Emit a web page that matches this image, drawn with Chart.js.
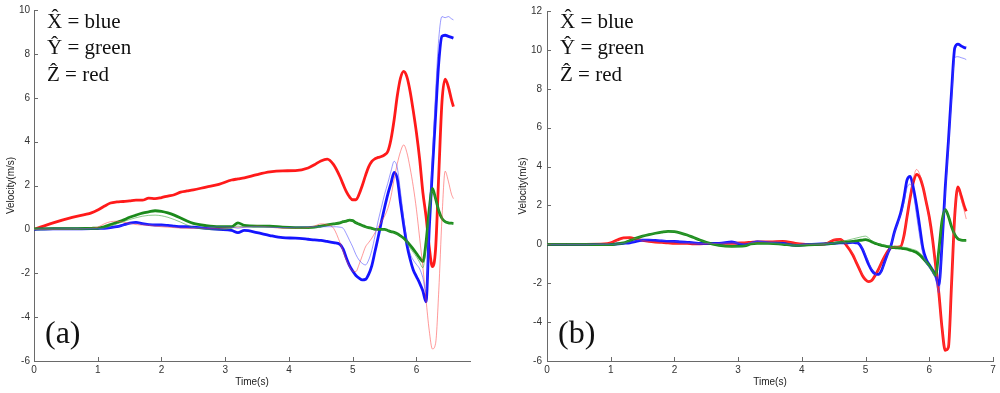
<!DOCTYPE html>
<html>
<head>
<meta charset="utf-8">
<script src="https://cdn.jsdelivr.net/npm/chart.js@4.4.1/dist/chart.umd.min.js"></script>
<style>
  html, body { margin: 0; padding: 0; background: #fff; }
  #wrap { position: relative; width: 1000px; height: 393px; overflow: hidden; }
  .panel { position: absolute; top: 0; width: 500px; height: 393px; }
  .key { position: absolute; top: 8px; font-family: "Liberation Serif", "Times New Roman", serif; font-size: 21px; line-height: 26.3px; color: #111; white-space: nowrap; }
  .tag { position: absolute; top: 316px; font-family: "Liberation Serif", "Times New Roman", serif; font-size: 32px; line-height: 32px; color: #111; }
</style>
</head>
<body>
<div id="wrap">
  <canvas id="chartA" class="panel" style="left:0" width="500" height="393"></canvas>
  <canvas id="chartB" class="panel" style="left:500px" width="500" height="393"></canvas>
  <div class="key" style="left:47px">X&#770; = blue<br>Y&#770; = green<br>Z&#770; = red</div>
  <div class="key" style="left:560px">X&#770; = blue<br>Y&#770; = green<br>Z&#770; = red</div>
  <div class="tag" style="left:45px">(a)</div>
  <div class="tag" style="left:558px">(b)</div>
</div>
<script>
/* ── DATA ── */
const time = [0, 0.3, 0.6, 0.9, 1.0, 1.1, 1.2, 1.3, 1.4, 1.5,
  1.6, 1.7, 1.8, 1.9, 2.0, 2.1, 2.2, 2.3, 2.4, 2.5,
  2.7, 2.9, 3.1, 3.2, 3.3, 3.5, 3.7, 3.9, 4.1, 4.3,
  4.4, 4.5, 4.6, 4.7, 4.8, 4.85, 4.9, 4.95, 5.0, 5.05,
  5.1, 5.15, 5.2, 5.25, 5.3, 5.35, 5.4, 5.45, 5.5, 5.55,
  5.6, 5.65, 5.7, 5.75, 5.8, 5.85, 5.9, 5.95, 6.0, 6.05,
  6.1, 6.15, 6.2, 6.25, 6.3, 6.35, 6.4, 6.45, 6.5, 6.55, 6.58];

// panel (a): thick = estimate, thin = reference
const xEstA = [0, 0.02, 0.02, 0.03, 0.04, 0.05, 0.08, 0.12, 0.2, 0.28,
  0.32, 0.26, 0.22, 0.2, 0.2, 0.18, 0.15, 0.12, 0.12, 0.1,
  0.05, 0.0, -0.05, -0.15, -0.05, -0.15, -0.28, -0.38, -0.4, -0.45,
  -0.48, -0.5, -0.55, -0.6, -0.68, -0.9, -1.3, -1.65, -1.9, -2.1,
  -2.22, -2.3, -2.28, -2.05, -1.65, -1.0, -0.35, 0.35, 1.0, 1.6,
  2.1, 2.6, 2.3, 1.2, 0.2, -0.7, -1.35, -1.85, -2.15, -2.45,
  -2.8, -3.3, 0.0, 2.7, 5.2, 7.6, 8.8, 8.85, 8.8, 8.75, 8.72];
const xRefA = [0, 0.02, 0.02, 0.03, 0.04, 0.05, 0.08, 0.12, 0.18, 0.25,
  0.28, 0.25, 0.22, 0.2, 0.18, 0.15, 0.12, 0.1, 0.1, 0.08,
  0.1, 0.12, 0.1, 0.05, 0.1, 0.12, 0.1, 0.08, 0.1, 0.12,
  0.12, 0.12, 0.12, 0.12, 0.1, 0.05, -0.2, -0.5, -0.8, -1.15,
  -1.4, -1.55, -1.62, -1.4, -0.95, -0.3, 0.4, 1.0, 1.6, 2.1,
  2.65, 3.1, 2.8, 1.7, 0.5, -0.5, -1.1, -1.4, -1.6, -1.8,
  -2.2, -2.85, 0.3, 3.3, 6.2, 8.7, 9.7, 9.65, 9.7, 9.6, 9.55];
const yEstA = [0.02, 0.03, 0.03, 0.05, 0.06, 0.12, 0.22, 0.32, 0.42, 0.55,
  0.65, 0.74, 0.8, 0.85, 0.82, 0.75, 0.65, 0.52, 0.38, 0.27,
  0.17, 0.12, 0.12, 0.3, 0.18, 0.15, 0.15, 0.1, 0.08, 0.08,
  0.1, 0.15, 0.2, 0.25, 0.3, 0.35, 0.38, 0.42, 0.4, 0.3,
  0.24, 0.18, 0.12, 0.08, 0.05, 0.0, 0.0, 0.0, 0.0, -0.05,
  -0.1, -0.14, -0.2, -0.3, -0.4, -0.55, -0.72, -0.9, -1.1, -1.3,
  -1.47, -0.6, 0.9, 1.87, 1.4, 0.85, 0.5, 0.35, 0.3, 0.28, 0.27];
const yRefA = [0.02, 0.02, 0.02, 0.03, 0.02, 0.05, 0.15, 0.25, 0.35, 0.45,
  0.53, 0.6, 0.64, 0.65, 0.62, 0.55, 0.45, 0.33, 0.2, 0.1,
  0.0, -0.02, 0.05, 0.15, 0.12, 0.12, 0.1, 0.08, 0.05, 0.05,
  0.08, 0.12, 0.18, 0.25, 0.32, 0.35, 0.38, 0.45, 0.38, 0.3,
  0.22, 0.15, 0.1, 0.06, 0.03, 0.02, 0.02, 0.0, -0.02, -0.06,
  -0.1, -0.15, -0.22, -0.32, -0.45, -0.65, -0.85, -1.05, -1.25, -1.5,
  -1.75, -0.8, 0.8, 1.75, 1.4, 0.85, 0.5, 0.35, 0.3, 0.27, 0.25];
const zEstA = [0, 0.3, 0.55, 0.75, 0.88, 1.05, 1.2, 1.25, 1.27, 1.3,
  1.33, 1.33, 1.42, 1.4, 1.45, 1.52, 1.58, 1.7, 1.75, 1.8,
  1.93, 2.05, 2.25, 2.3, 2.35, 2.5, 2.62, 2.67, 2.68, 2.8,
  2.95, 3.12, 3.2, 2.95, 2.4, 2.05, 1.72, 1.48, 1.35, 1.35,
  1.6, 2.0, 2.45, 2.85, 3.1, 3.22, 3.28, 3.32, 3.4, 3.55,
  4.1, 5.0, 6.1, 6.9, 7.2, 6.95, 6.3, 5.4, 4.4, 3.2,
  1.7, 0.6, -0.8, -1.7, -0.9, 2.5, 5.8, 6.85, 6.5, 5.9, 5.6];
const zRefA = [0, 0, 0.02, 0.05, 0.1, 0.25, 0.35, 0.37, 0.33, 0.28,
  0.22, 0.2, 0.18, 0.15, 0.12, 0.1, 0.08, 0.06, 0.05, 0.05,
  0.05, 0.05, 0.08, 0.1, 0.1, 0.15, 0.1, 0.05, 0.05, 0.08,
  0.15, 0.25, 0.22, 0.05, -0.6, -1.0, -1.4, -1.7, -1.9, -1.92,
  -1.6, -1.2, -0.8, -0.6, -0.4, -0.15, 0.1, 0.35, 0.6, 0.95,
  1.5, 2.3, 3.0, 3.55, 3.85, 3.5, 2.8, 1.95, 0.9, -0.4,
  -1.7, -3.2, -4.6, -5.45, -5.2, -2.8, 0.5, 2.65, 2.2, 1.6, 1.4];

// panel (b)
const xEstB = [0, 0, 0, 0, 0.0, 0.02, 0.05, 0.08, 0.15, 0.22,
  0.22, 0.2, 0.18, 0.15, 0.15, 0.12, 0.1, 0.08, 0.05, 0.05,
  0.05, 0.12, -0.03, 0.05, 0.12, 0.08, 0.05, -0.05, 0.0, 0.02,
  0.03, 0.05, 0.08, 0.08, 0.1, 0.08, 0.02, -0.25, -0.65, -1.05,
  -1.35, -1.52, -1.55, -1.35, -0.9, -0.45, -0.05, 0.6, 1.1, 1.6,
  2.35, 3.3, 3.5, 2.9, 2.0, 0.9, -0.2, -0.75, -1.05, -1.3,
  -1.6, -2.1, 0.0, 2.9, 5.3, 7.9, 10.1, 10.3, 10.2, 10.12, 10.1];
const xRefB = [0, 0, 0, 0, 0.0, 0.02, 0.05, 0.1, 0.18, 0.25,
  0.25, 0.22, 0.2, 0.18, 0.15, 0.12, 0.1, 0.08, 0.06, 0.05,
  0.05, 0.12, 0.0, 0.08, 0.15, 0.1, 0.05, -0.03, 0.02, 0.02,
  0.03, 0.05, 0.08, 0.08, 0.1, 0.08, 0.02, -0.2, -0.55, -0.95,
  -1.3, -1.55, -1.6, -1.4, -0.95, -0.5, 0.0, 0.55, 1.05, 1.5,
  2.1, 2.9, 3.1, 2.6, 1.5, 0.4, -0.5, -0.95, -1.2, -1.45,
  -1.8, -2.5, -0.1, 2.5, 5.0, 7.5, 9.6, 9.65, 9.6, 9.55, 9.5];
const yEstB = [0, 0, 0, -0.02, -0.02, 0.02, 0.07, 0.2, 0.32, 0.42,
  0.5, 0.57, 0.63, 0.67, 0.65, 0.58, 0.48, 0.35, 0.22, 0.1,
  -0.05, -0.1, -0.08, 0.02, 0.05, 0.05, 0.0, -0.05, -0.03, 0.0,
  0.02, 0.05, 0.1, 0.12, 0.15, 0.18, 0.2, 0.22, 0.24, 0.2,
  0.12, 0.05, 0.0, -0.05, -0.08, -0.12, -0.15, -0.17, -0.18, -0.2,
  -0.22, -0.25, -0.3, -0.35, -0.42, -0.55, -0.72, -0.9, -1.1, -1.35,
  -1.6, -0.3, 1.2, 1.78, 1.45, 0.9, 0.5, 0.28, 0.22, 0.2, 0.2];
const yRefB = [0, 0, 0, -0.02, -0.02, 0.02, 0.07, 0.2, 0.32, 0.42,
  0.5, 0.57, 0.63, 0.67, 0.65, 0.58, 0.48, 0.35, 0.22, 0.1,
  -0.05, -0.1, -0.08, 0.02, 0.05, 0.05, 0.0, -0.05, -0.03, 0.0,
  0.02, 0.08, 0.15, 0.2, 0.28, 0.32, 0.36, 0.4, 0.42, 0.32,
  0.18, 0.08, 0.02, -0.03, -0.06, -0.08, -0.1, -0.1, -0.12, -0.13,
  -0.15, -0.18, -0.22, -0.27, -0.32, -0.45, -0.6, -0.85, -1.1, -1.35,
  -1.6, -0.3, 1.2, 1.78, 1.45, 0.9, 0.5, 0.28, 0.22, 0.2, 0.2];
const zEstB = [0, 0, 0, 0.02, 0.08, 0.22, 0.33, 0.34, 0.27, 0.2,
  0.15, 0.12, 0.1, 0.08, 0.05, 0.05, 0.05, 0.03, 0.03, 0.04,
  0.05, 0.05, 0.08, 0.1, 0.12, 0.12, 0.15, 0.05, 0.0, 0.0,
  0.05, 0.22, 0.25, -0.05, -0.55, -0.9, -1.25, -1.6, -1.82, -1.92,
  -1.85, -1.6, -1.3, -0.95, -0.62, -0.35, -0.18, -0.15, -0.14, -0.12,
  0.4, 1.4, 2.4, 3.2, 3.6, 3.45, 2.95, 2.2, 1.4, 0.3,
  -1.1, -2.5, -4.3, -5.45, -5.3, -2.0, 1.5, 2.95, 2.5, 1.95, 1.7];
const zRefB = [0, 0, 0, 0.02, 0.08, 0.2, 0.3, 0.33, 0.28, 0.2,
  0.15, 0.12, 0.1, 0.08, 0.06, 0.05, 0.05, 0.03, 0.03, 0.04,
  0.05, 0.06, 0.08, 0.1, 0.12, 0.13, 0.15, 0.05, 0.0, 0.0,
  0.08, 0.25, 0.27, 0.0, -0.5, -0.85, -1.2, -1.55, -1.8, -1.9,
  -1.85, -1.6, -1.3, -0.95, -0.62, -0.35, -0.18, -0.15, -0.14, -0.12,
  0.35, 1.35, 2.5, 3.4, 3.85, 3.6, 3.0, 2.2, 1.3, 0.2,
  -1.2, -2.6, -4.3, -5.4, -5.2, -2.0, 1.4, 2.85, 2.3, 1.7, 1.3];

// axes
const xTicksA = [0, 1, 2, 3, 4, 5, 6];
const yTicksA = [-6, -4, -2, 0, 2, 4, 6, 8, 10];
const xTicksB = [0, 1, 2, 3, 4, 5, 6, 7];
const yTicksB = [-6, -4, -2, 0, 2, 4, 6, 8, 10, 12];

/* ── STYLE ── */
const BLUE = '#1414ff', GREEN = '#1b8a1b', RED = '#ff1a1a';
const BLUE_T = 'rgba(70,70,255,0.55)', GREEN_T = 'rgba(60,165,60,0.6)', RED_T = 'rgba(255,70,70,0.55)';
const AXIS = '#6a6a6a';
const SANS = '"Liberation Sans", Arial, Helvetica, sans-serif';

function series(values, color, width) {
  return {
    data: time.map((t, i) => ({ x: t, y: values[i] })),
    borderColor: color, borderWidth: width,
    pointRadius: 0, fill: false,
    cubicInterpolationMode: 'monotone'
  };
}

// MATLAB-style ticks pointing into the plot
const inwardTicks = {
  id: 'inwardTicks',
  afterDraw(chart) {
    const { ctx, chartArea, scales } = chart;
    ctx.save();
    ctx.strokeStyle = AXIS; ctx.lineWidth = 1;
    scales.x.ticks.forEach(t => {
      const px = Math.round(scales.x.getPixelForValue(t.value)) + 0.5;
      ctx.beginPath(); ctx.moveTo(px, chartArea.bottom); ctx.lineTo(px, chartArea.bottom - 4); ctx.stroke();
    });
    scales.y.ticks.forEach(t => {
      const py = Math.round(scales.y.getPixelForValue(t.value)) + 0.5;
      ctx.beginPath(); ctx.moveTo(chartArea.left, py); ctx.lineTo(chartArea.left + 4, py); ctx.stroke();
    });
    ctx.restore();
  }
};

function makePanel(id, p) {
  return new Chart(document.getElementById(id), {
    type: 'line',
    data: {
      datasets: [
        series(p.xRef, BLUE_T, 1), series(p.yRef, GREEN_T, 1), series(p.zRef, RED_T, 1),
        series(p.yEst, GREEN, 2.8), series(p.xEst, BLUE, 2.8), series(p.zEst, RED, 2.8)
      ]
    },
    options: {
      responsive: false, animation: false,
      layout: { padding: { left: 0, right: p.padRight, top: 10, bottom: 0 } },
      plugins: { legend: { display: false }, tooltip: { enabled: false } },
      scales: {
        x: {
          type: 'linear', min: 0, max: p.xMax,
          afterBuildTicks: s => { s.ticks = p.xTicks.map(v => ({ value: v })); },
          afterFit: s => { s.height = 32; },
          grid: { display: false, drawTicks: false },
          border: { color: AXIS, width: 1 },
          ticks: { padding: 3, color: '#333', font: { family: SANS, size: 10 } },
          title: { display: true, text: 'Time(s)', color: '#222', font: { family: SANS, size: 10 }, padding: { top: 5, bottom: 5 } }
        },
        y: {
          type: 'linear', min: p.yTicks[0], max: p.yTicks[p.yTicks.length - 1],
          afterBuildTicks: s => { s.ticks = p.yTicks.map(v => ({ value: v })); },
          afterFit: s => { s.width = p.yWidth; },
          grid: { display: false, drawTicks: false },
          border: { color: AXIS, width: 1 },
          ticks: { padding: p.tickPad, color: '#333', font: { family: SANS, size: 10 } },
          title: { display: true, text: 'Velocity(m/s)', color: '#222', font: { family: SANS, size: 10 }, padding: { top: p.titlePad, bottom: p.titlePad } }
        }
      }
    },
    plugins: [inwardTicks]
  });
}

/* ── START ── */
makePanel('chartA', {
  xEst: xEstA, xRef: xRefA, yEst: yEstA, yRef: yRefA, zEst: zEstA, zRef: zRefA,
  xTicks: xTicksA, yTicks: yTicksA, xMax: 6.84,
  yWidth: 34, padRight: 30, tickPad: 4, titlePad: 5
});
makePanel('chartB', {
  xEst: xEstB, xRef: xRefB, yEst: yEstB, yRef: yRefB, zEst: zEstB, zRef: zRefB,
  xTicks: xTicksB, yTicks: yTicksB, xMax: 7,
  yWidth: 47, padRight: 7, tickPad: 5, titlePad: 17
});
</script>
</body>
</html>
